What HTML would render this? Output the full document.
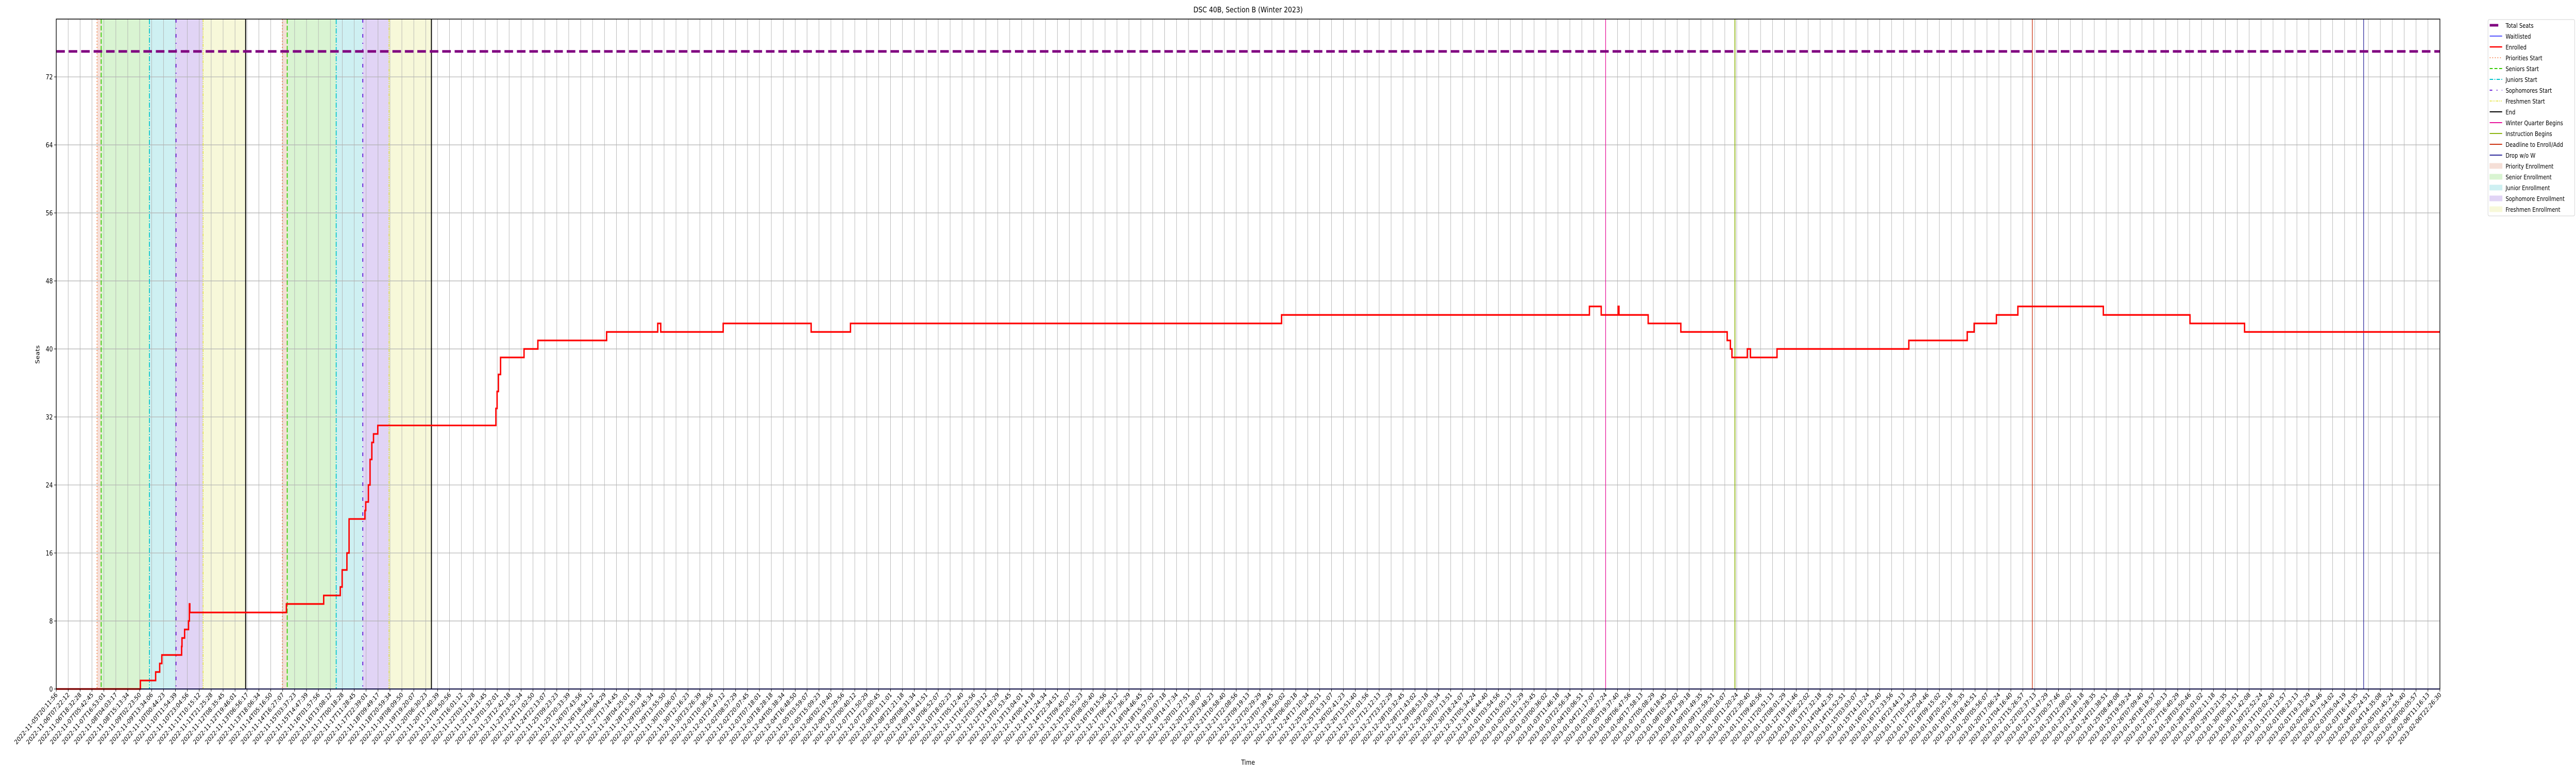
<!DOCTYPE html>
<html><head><meta charset="utf-8"><style>
html,body{margin:0;padding:0;background:#fff;width:100%;height:100%;overflow:hidden;}
svg{display:block;overflow:hidden;width:100vw;height:100vh;font-family:"DejaVu Sans","Liberation Sans",sans-serif;}
</style></head><body>
<svg id="chart" viewBox="0 0 6000 1500" preserveAspectRatio="none" xmlns="http://www.w3.org/2000/svg">
<text x="2907" y="24" font-size="15" text-anchor="middle">DSC 40B, Section B (Winter 2023)</text>
<text x="2907" y="1484" font-size="13" text-anchor="middle">Time</text>
<text x="0" y="0" font-size="13" text-anchor="middle" transform="translate(92,688) rotate(-90)">Seats</text>
<g id="shades"></g><g id="grid"></g><g id="vlines"></g><g id="series"></g><g id="axes"></g><g id="legend"></g>
</svg>
<script>
// ---- data ----
const tickCount = 200;
const startLabel = "2022-11-05T20:11:56";
const endLabel = "2023-02-06T22:26:30";
const yTicks = [0, 8, 16, 24, 32, 40, 48, 56, 64, 72];
const totalSeats = [75];
// enrolled step series: x in tick-index units, y seats
const enrolledX = [0, 7.06, 8.34, 8.68, 8.86, 10.52, 10.55, 10.77, 11.10, 11.17, 11.21, 19.31, 22.44, 23.83, 23.99, 24.39, 24.57, 25.90, 25.97, 26.19, 26.33, 26.48, 26.62, 26.98, 36.89, 36.99, 37.10, 37.28, 39.25, 40.41, 46.18, 50.47, 50.72, 55.96, 63.34, 66.64, 102.81, 128.64, 129.63, 131.05, 131.12, 133.57, 136.31, 140.20, 140.47, 140.60, 141.89, 142.15, 144.38, 155.44, 160.34, 160.92, 162.79, 164.59, 171.76, 179.03, 183.61];
const enrolledY = [0, 1, 2, 3, 4, 5, 6, 7, 8, 10, 9, 10, 11, 12, 14, 16, 20, 21, 22, 24, 27, 29, 30, 31, 33, 35, 37, 39, 40, 41, 42, 43, 42, 43, 42, 43, 44, 45, 44, 45, 44, 43, 42, 41, 40, 39, 40, 39, 40, 41, 42, 43, 44, 45, 44, 43, 42];
const waitlistedX = [0, 200];
const waitlistedY = [0, 0];
// enrollment periods (two registration passes)
const priorityStart = [3.42, 18.97];
const seniorsStart = [3.77, 19.38];
const juniorsStart = [7.82, 23.49];
const sophomoresStart = [10.05, 25.72];
const freshmenStart = [12.32, 27.92];
const periodEnd = [15.89, 31.48];
const winterBegins = [130.0];
const instructionBegins = [140.85];
const deadlineAdd = [165.8];
const dropNoW = [193.6];

// ---- layout ----
const L=131,R=5683,T=37,B=1337;
const yMax=78.8;
const xs=v=>L+(R-L)*v/tickCount;
const ys=v=>B-(B-T)*v/yMax;
const NS="http://www.w3.org/2000/svg";
function mk(tag,attrs,parent){const e=document.createElementNS(NS,tag);for(const k in attrs)e.setAttribute(k,attrs[k]);parent.appendChild(e);return e;}
const gS=document.getElementById('shades'),gG=document.getElementById('grid'),gV=document.getElementById('vlines'),gSe=document.getElementById('series'),gA=document.getElementById('axes'),gL=document.getElementById('legend');

// labels
const t0=Date.parse(startLabel+"Z"),t1=Date.parse(endLabel+"Z");
const tickLabels=[];
for(let i=0;i<=tickCount;i++){tickLabels.push(new Date(t0+(t1-t0)*i/tickCount).toISOString().slice(0,19));}

// shading
const shadeDefs=[[priorityStart,seniorsStart,'#f5dfd7','priority-enrollment'],[seniorsStart,juniorsStart,'#d9f4d2','senior-enrollment'],[juniorsStart,sophomoresStart,'#cef0f2','junior-enrollment'],[sophomoresStart,freshmenStart,'#e1d4f5','sophomore-enrollment'],[freshmenStart,periodEnd,'#f7f8d9','freshmen-enrollment']];
shadeDefs.forEach(d=>{for(let i=0;i<d[0].length;i++){
 const r=mk('rect',{x:xs(d[0][i]),y:T,width:xs(d[1][i])-xs(d[0][i]),height:B-T,fill:d[2]},gS);
 
 
}});
// grid
for(let i=0;i<=tickCount;i++){const x=xs(i);
 const l=mk('line',{x1:x,x2:x,y1:T,y2:B,stroke:'#b0b0b0','stroke-width':1},gG);
 
 
}
yTicks.forEach(v=>{const y=ys(v);
 const l=mk('line',{x1:L,x2:R,y1:y,y2:y,stroke:'#b0b0b0','stroke-width':1.2},gG);
 
 
});
// vertical lines
const vDefs=[[priorityStart,'#f26a2a','2 4',1.5,'priorities-start-line'],[seniorsStart,'#33cc00','9 4',2,'seniors-start-line'],[juniorsStart,'#00c4cc','10 3 2 3',2,'juniors-start-line'],[sophomoresStart,'#6a1fd8','7 10 2 10',2.2,'sophomores-start-line'],[freshmenStart,'#e2e22a','6 2 2 2 2 2',1.5,'freshmen-start-line'],[periodEnd,'#000000','',2.2,'end-line'],[winterBegins,'#e8149c','',1.5,'winter-quarter-begins-line'],[instructionBegins,'#8db512','',2,'instruction-begins-line'],[deadlineAdd,'#cc3311','',1.5,'deadline-line'],[dropNoW,'#2e2a9c','',1.5,'drop-line']];
vDefs.forEach(d=>{d[0].forEach(v=>{const x=xs(v);
 const a={x1:x,x2:x,y1:T,y2:B,stroke:d[1],'stroke-width':d[3]};if(d[2])a['stroke-dasharray']=d[2];
 const l=mk('line',a,gV);
 
 
});});
// total seats
const ts=mk('line',{x1:L,x2:R,y1:ys(totalSeats[0]),y2:ys(totalSeats[0]),stroke:'#800080','stroke-width':5,'stroke-dasharray':'20 9'},gSe);


// waitlisted
const wl=mk('polyline',{points:waitlistedX.map((x,i)=>xs(x)+','+ys(waitlistedY[i])).join(' '),fill:'none',stroke:'#1f1fff','stroke-width':2},gSe);


// enrolled step
let pts=[];
for(let i=0;i<enrolledX.length;i++){
 if(i>0)pts.push(xs(enrolledX[i])+','+ys(enrolledY[i-1]));
 pts.push(xs(enrolledX[i])+','+ys(enrolledY[i]));
}
pts.push(xs(tickCount)+','+ys(enrolledY[enrolledY.length-1]));
const en=mk('polyline',{points:pts.join(' '),fill:'none',stroke:'#ff0000','stroke-width':3.2,'stroke-linejoin':'miter'},gSe);


// axes frame
const fr=mk('rect',{x:L,y:T,width:R-L,height:B-T,fill:'none',stroke:'#000','stroke-width':1.5},gA);


yTicks.forEach(v=>{const y=ys(v);
 mk('line',{x1:L-5,x2:L,y1:y,y2:y,stroke:'#000','stroke-width':1},gA);
 const t=mk('text',{x:L-8,y:y+5,'font-size':13,'text-anchor':'end'},gA);t.textContent=v;
 
 
});
tickLabels.forEach((s,i)=>{const x=xs(i);
 mk('line',{x1:x,x2:x,y1:B,y2:B+5,stroke:'#000','stroke-width':1},gA);
 const t=mk('text',{x:0,y:0,'font-size':12.5,'text-anchor':'end',transform:`translate(${x+4},${B+12}) rotate(-45)`},gA);t.textContent=s;
 
 
});
// legend
const lg=mk('rect',{x:5795,y:38,width:202,height:381,fill:'#fff',stroke:'#d0d0d0','stroke-width':1,rx:3},gL);


const legendItems=[['Total Seats','line','#800080',5,'20 9'],['Waitlisted','line','#1f1fff',1.5,''],['Enrolled','line','#ff0000',2.5,''],['Priorities Start','line','#f26a2a',1.5,'2 4'],['Seniors Start','line','#33cc00',2,'7 4'],['Juniors Start','line','#00c4cc',2,'8 3 2 3'],['Sophomores Start','line','#6a1fd8',2,'6 10 2 10'],['Freshmen Start','line','#e2e22a',1.5,'5 2 2 2 2 2'],['End','line','#000',2,''],['Winter Quarter Begins','line','#e8149c',2,''],['Instruction Begins','line','#8db512',2,''],['Deadline to Enroll/Add','line','#cc3311',2,''],['Drop w/o W','line','#2e2a9c',2,''],['Priority Enrollment','patch','#f5dfd7'],['Senior Enrollment','patch','#d9f4d2'],['Junior Enrollment','patch','#cef0f2'],['Sophomore Enrollment','patch','#e1d4f5'],['Freshmen Enrollment','patch','#f7f8d9']];
legendItems.forEach((it,i)=>{const y=49+i*21;
 const g=mk('g',{},gL);
 
 
 if(it[1]==='line'){const a={x1:5799,x2:5828,y1:y,y2:y,stroke:it[2],'stroke-width':it[3]};if(it[4])a['stroke-dasharray']=it[4];if(i===0){a.x2=5819;}mk('line',a,g);}
 else mk('rect',{x:5799,y:y-5,width:29,height:10,fill:it[2],stroke:it[2]},g);
 const t=mk('text',{x:5836,y:y+5,'font-size':12},g);t.textContent=it[0];
});
</script>
</body></html>
